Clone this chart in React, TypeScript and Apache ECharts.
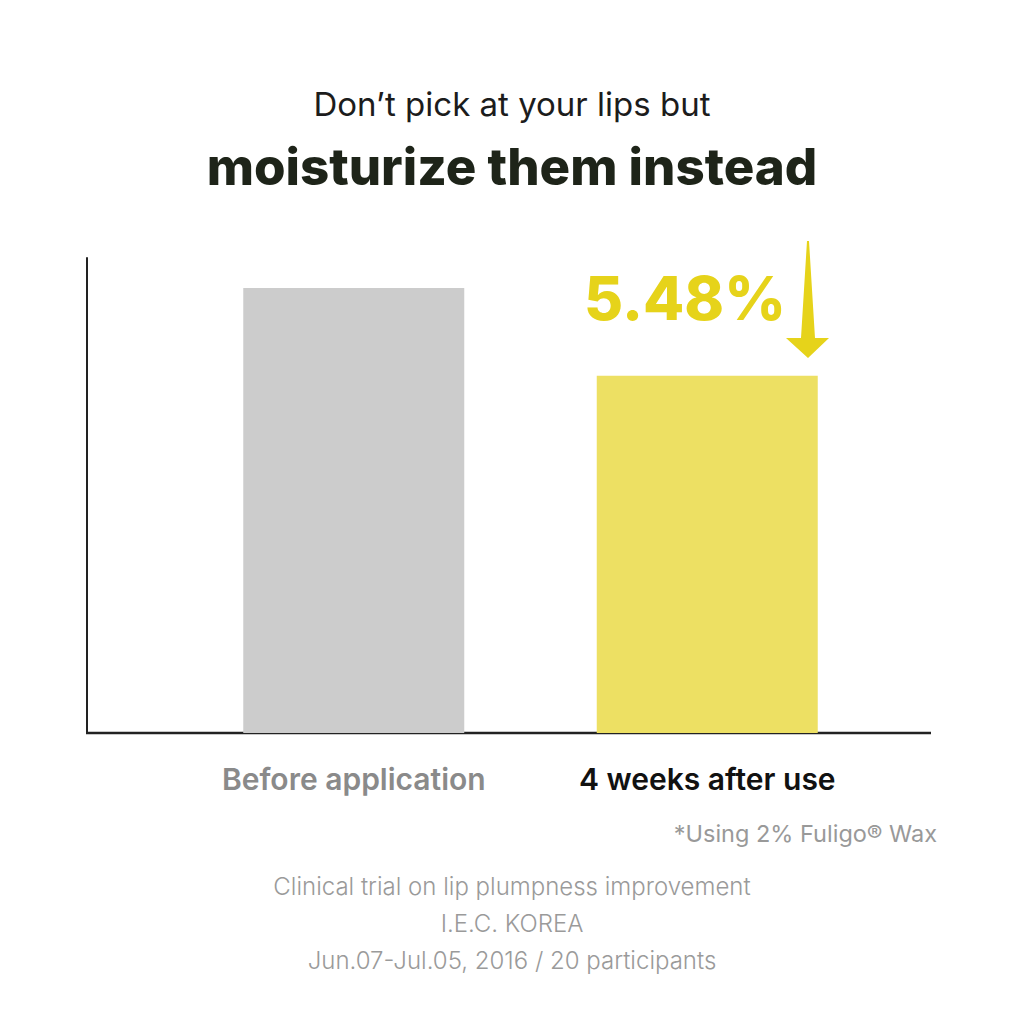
import React, { useEffect, useRef } from "react";
import * as echarts from "echarts";

const categories = ["Before application", "4 weeks after use"];
const values = [93.7, 75.2];
const barColors = ["#cccccc", "#ede063"];
const labelColors = ["#8a8a8a", "#111111"];
const changeLabel = "5.48%";
const titleLine1 = "Don\u2019t pick at your lips but";
const titleLine2 = "moisturize them instead";
const footnote = "*Using 2% Fuligo\u00ae Wax";
const footerLines = [
  "Clinical trial on lip plumpness improvement",
  "I.E.C. KOREA",
  "Jun.07-Jul.05, 2016 / 20 participants",
];

export default function App() {
  const ref = useRef<HTMLDivElement>(null);
  useEffect(() => {
    const chart = echarts.init(ref.current!, null, { renderer: "svg" });
    const font = "Inter, 'Noto Sans', sans-serif";
    chart.setOption({
      animation: false,
      backgroundColor: "#ffffff",
      grid: { left: 177, right: 140, top: 258, bottom: 291 },
      xAxis: {
        type: "category",
        data: categories,
        axisLine: { show: false },
        axisTick: { show: false },
        axisLabel: {
          interval: 0,
          hideOverlap: false,
          margin: 31,
          fontFamily: font,
          fontSize: 30,
          fontWeight: 600,
          formatter: (v: string, i: number) => `{c${i}|${v}}`,
          rich: {
            c0: { color: labelColors[0], fontSize: 30, fontWeight: 600, fontFamily: font },
            c1: { color: labelColors[1], fontSize: 30, fontWeight: 600, fontFamily: font },
          },
        },
      },
      yAxis: {
        type: "value",
        min: 0,
        max: 100,
        offset: 90,
        axisLine: { show: true, lineStyle: { color: "#222222", width: 2 } },
        axisTick: { show: false },
        axisLabel: { show: false },
        splitLine: { show: false },
      },
      series: [
        {
          type: "bar",
          barWidth: 221,
          data: values.map((v, i) => ({ value: v, itemStyle: { color: barColors[i] } })),
        },
      ],
      graphic: [
        {
          type: "text",
          left: "center",
          top: 87,
          style: { text: titleLine1, fontFamily: font, fontSize: 33, fontWeight: 400, fill: "#1c1c1c" },
        },
        {
          type: "text",
          left: "center",
          top: 141,
          style: { text: titleLine2, fontFamily: font, fontSize: 51, fontWeight: 800, fill: "#1e2419" },
        },
        {
          type: "line",
          shape: { x1: 86, y1: 733, x2: 931, y2: 733 },
          style: { stroke: "#222222", lineWidth: 2.5 },
        },
        {
          type: "text",
          x: 685,
          y: 298,
          style: {
            text: changeLabel,
            fontFamily: font,
            fontSize: 60,
            fontWeight: 800,
            fill: "#e6d31a",
            textAlign: "center",
            textVerticalAlign: "middle",
          },
        },
        {
          type: "polygon",
          shape: {
            points: [
              [807, 241], [809, 241], [815, 338], [829, 338],
              [808, 358], [786, 338], [801, 338],
            ],
          },
          style: { fill: "#e6d31a" },
        },
        {
          type: "text",
          x: 937,
          y: 833,
          style: {
            text: footnote, fontFamily: font, fontSize: 23.5, fontWeight: 400, fill: "#999999",
            textAlign: "right", textVerticalAlign: "middle",
          },
        },
        ...footerLines.map((t, i) => ({
          type: "text",
          x: 512,
          y: 886 + i * 37,
          style: {
            text: t, fontFamily: font, fontSize: 24, fontWeight: 300, fill: "#9a9a9a",
            textAlign: "center", textVerticalAlign: "middle",
          },
        })),
      ],
    });
    return () => chart.dispose();
  }, []);
  return <div ref={ref} style={{ width: 1024, height: 1024, position: "absolute", left: 0, top: 0 }} />;
}
